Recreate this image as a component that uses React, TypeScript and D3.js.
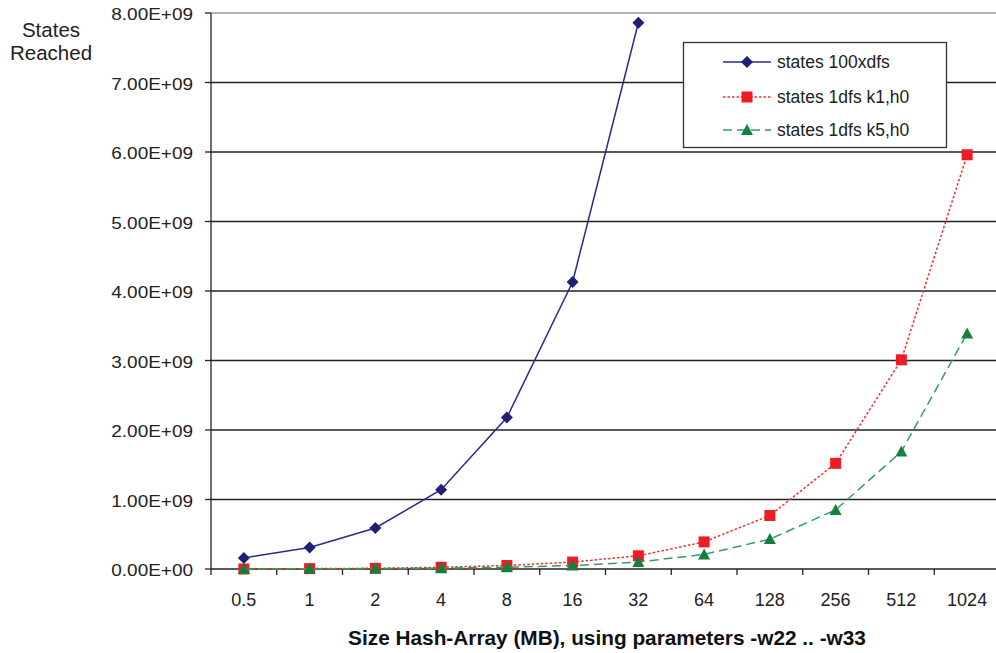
import React from 'react';
import * as d3 from 'd3';

const sizes = ['0.5', '1', '2', '4', '8', '16', '32', '64', '128', '256', '512', '1024'];
const states100xdfs = [0.16e9, 0.31e9, 0.59e9, 1.14e9, 2.18e9, 4.13e9, 7.86e9, null, null, null, null, null];
const states1dfsK1 = [0.0, 0.005e9, 0.01e9, 0.025e9, 0.05e9, 0.1e9, 0.19e9, 0.39e9, 0.77e9, 1.52e9, 3.01e9, 5.96e9];
const states1dfsK5 = [0.0, 0.003e9, 0.006e9, 0.012e9, 0.025e9, 0.05e9, 0.1e9, 0.21e9, 0.43e9, 0.85e9, 1.69e9, 3.39e9];
const yTicks = [0, 1e9, 2e9, 3e9, 4e9, 5e9, 6e9, 7e9, 8e9];

const font = 'Liberation Sans, Arial, sans-serif';

export default function App() {
  const left = 211, right = 1000, top = 13, bottom = 569;
  const x = d3.scaleBand<string>().domain(sizes).range([left, right]);
  const y = d3.scaleLinear().domain([0, 8e9]).range([bottom, top]);
  const cx = (s: string) => (x(s) as number) + x.bandwidth() / 2;

  const line = d3.line<number | null>()
    .defined(d => d !== null)
    .x((_, i) => cx(sizes[i]))
    .y(d => y(d as number));

  const fmt = (v: number) => (v / 1e9).toFixed(2) + 'E+' + (v === 0 ? '00' : '09');

  const series = [
    { name: 'states 100xdfs', data: states100xdfs, color: '#2a2a88', dash: undefined, marker: 'diamond', mcolor: '#1f1f78' },
    { name: 'states 1dfs k1,h0', data: states1dfsK1, color: '#f03030', dash: '2.5,2', marker: 'square', mcolor: '#ee1c24' },
    { name: 'states 1dfs k5,h0', data: states1dfsK5, color: '#3a9a62', dash: '9,5', marker: 'triangle', mcolor: '#138040' },
  ];

  const marker = (type: string, px: number, py: number, color: string, key: string | number) => {
    if (type === 'diamond') {
      const r = 6;
      return <path key={key} d={`M${px},${py - r}L${px + r},${py}L${px},${py + r}L${px - r},${py}Z`} fill={color} />;
    }
    if (type === 'square') {
      return <rect key={key} x={px - 5.5} y={py - 5.5} width={11} height={11} fill={color} />;
    }
    return <path key={key} d={`M${px},${py - 6}L${px + 6},${py + 5}L${px - 6},${py + 5}Z`} fill={color} />;
  };

  const legendRows = [62, 97, 130];

  return (
    <svg width={996} height={653} style={{ position: 'absolute', left: 0, top: 0, background: '#fff' }} fontFamily={font}>
      {/* grid */}
      {yTicks.map(t => (
        <line key={t} x1={left} x2={right} y1={y(t)} y2={y(t)} stroke={t === 8e9 ? '#999' : '#222'} strokeWidth={1.3} />
      ))}
      {/* y axis */}
      <line x1={left} x2={left} y1={top} y2={bottom + 6} stroke="#222" strokeWidth={1.3} />
      {yTicks.map(t => (
        <g key={'yt' + t}>
          <line x1={left - 6} x2={left} y1={y(t)} y2={y(t)} stroke="#222" strokeWidth={1.3} />
          <text transform={`translate(193,${y(t) + 1.5}) scale(1.15,1)`} dy="0.35em" textAnchor="end" fontSize={16.5} fill="#222">{fmt(t)}</text>
        </g>
      ))}
      {/* x ticks */}
      {sizes.map(s => (
        <g key={'xt' + s}>
          <line x1={(x(s) as number) + x.bandwidth()} x2={(x(s) as number) + x.bandwidth()} y1={bottom} y2={bottom + 6} stroke="#222" strokeWidth={1.3} />
          <text x={cx(s)} y={605.5} textAnchor="middle" fontSize={18} fill="#222">{s}</text>
        </g>
      ))}
      {/* series */}
      {series.map(s => (
        <g key={s.name}>
          <path d={line(s.data) as string} fill="none" stroke={s.color} strokeWidth={1.5} strokeDasharray={s.dash} />
          {s.data.map((v, i) => v === null ? null : marker(s.marker, cx(sizes[i]), y(v), s.mcolor, i))}
        </g>
      ))}
      {/* legend */}
      <rect x={683.5} y={42.5} width={263} height={105} fill="#fff" stroke="#333" strokeWidth={1.3} />
      {series.map((s, i) => (
        <g key={'lg' + s.name}>
          <line x1={723} x2={771} y1={legendRows[i]} y2={legendRows[i]} stroke={s.color} strokeWidth={1.5} strokeDasharray={s.dash} />
          {marker(s.marker, 747, legendRows[i], s.mcolor, 'm')}
          <text x={777} y={legendRows[i]} dy="0.35em" fontSize={17.5} fill="#222">{s.name}</text>
        </g>
      ))}
      {/* axis titles */}
      <text x={51} y={30} dy="0.35em" textAnchor="middle" fontSize={20.5} fill="#222">States</text>
      <text x={51} y={53} dy="0.35em" textAnchor="middle" fontSize={20.5} fill="#222">Reached</text>
      <text x={607} y={645} textAnchor="middle" fontSize={20.8} fontWeight="bold" fill="#111">Size Hash-Array (MB), using parameters  -w22 ..  -w33</text>
    </svg>
  );
}
